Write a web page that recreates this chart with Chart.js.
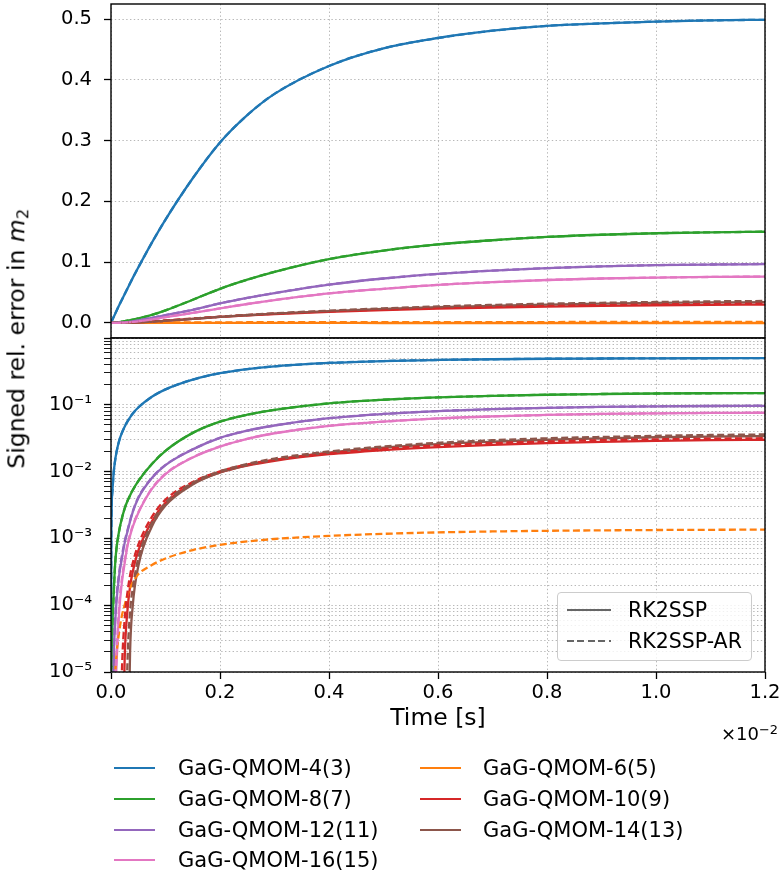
<!DOCTYPE html>
<html>
<head>
<meta charset="utf-8">
<script src="https://cdn.jsdelivr.net/npm/chart.js@4.4.1/dist/chart.umd.min.js"></script>
<style>
  html, body { margin:0; padding:0; background:#fff; }
  #wrap { position:relative; width:783px; height:873px; overflow:hidden; font-family:"DejaVu Sans", sans-serif; color:#000; }
  canvas { position:absolute; left:0; top:0; }
  .txt { position:absolute; white-space:nowrap; line-height:1.164em; }
  #ytitle { position:absolute; width:400px; text-align:center; font-size:23.5px; line-height:1.164em; transform:rotate(-90deg); }
  #xtitle { position:absolute; left:111px; width:654px; text-align:center; font-size:23.5px; line-height:1.164em; }
  #offset { position:absolute; right:5px; text-align:right; font-size:18px; line-height:1.164em; white-space:nowrap; }
  #offset sup { font-size:0.72em; vertical-align:0.5em; line-height:0; }
  #inleg { position:absolute; left:557px; top:592px; width:195px; height:69px; border:1px solid #cccccc; border-radius:4px; background:rgba(255,255,255,0.8); box-sizing:border-box; }
  .sample { position:absolute; height:2.6px; }
  .leg { font-size:21px; }
</style>
</head>
<body>
<div id="wrap">
  <canvas id="cTop" width="783" height="873"></canvas>
  <canvas id="cBot" width="783" height="873"></canvas>
  <div id="ytitle">Signed rel. error in <i>m</i><sub style="font-size:0.7em;vertical-align:-0.25em;line-height:0">2</sub></div>
  <div id="xtitle">Time [s]</div>
  <div id="offset">×10<sup>−2</sup></div>
  <div id="inleg"></div>
  <div id="legend"></div>
</div>
<script>
// ---------------- data ----------------
// time in units of 1e-2 s
const T = [0, 0.00001, 0.0005, 0.0025, 0.005, 0.0075, 0.01, 0.015, 0.02, 0.025, 0.03, 0.035, 0.04, 0.05, 0.075, 0.1, 0.15, 0.2, 0.25, 0.3, 0.4, 0.5, 0.6, 0.7, 0.8, 0.9, 1.0, 1.1, 1.2];

// GaG-QMOM-4(3)
const q4_rk  = [0, 2e-5, 0.001, 0.005, 0.0098, 0.0146, 0.0194, 0.029, 0.038, 0.047, 0.056, 0.065, 0.074, 0.091, 0.132, 0.170, 0.238, 0.297, 0.342, 0.377, 0.423, 0.452, 0.469, 0.481, 0.489, 0.493, 0.496, 0.498, 0.499];
const q4_ar  = [0, 2e-5, 0.001, 0.005, 0.0098, 0.0146, 0.0194, 0.029, 0.038, 0.047, 0.056, 0.065, 0.074, 0.091, 0.132, 0.170, 0.238, 0.297, 0.342, 0.377, 0.423, 0.452, 0.469, 0.481, 0.489, 0.493, 0.496, 0.498, 0.499];
// GaG-QMOM-6(5)
const q6_rk  = [0, 0, -1e-6, -5e-6, -1e-5, -1.5e-5, -2e-5, -3e-5, -4e-5, -5e-5, -6e-5, -7e-5, -8e-5, -9e-5, -1.1e-4, -1.3e-4, -1.6e-4, -1.9e-4, -2.1e-4, -2.3e-4, -2.5e-4, -2.6e-4, -2.7e-4, -2.75e-4, -2.8e-4, -2.8e-4, -2.85e-4, -2.85e-4, -2.9e-4];
const q6_ar  = [0, 0, 5e-8, 1e-6, 4e-6, 9e-6, 1.8e-5, 4e-5, 7e-5, 1e-4, 1.4e-4, 1.8e-4, 2.2e-4, 2.9e-4, 4e-4, 5e-4, 6.7e-4, 8e-4, 9e-4, 9.8e-4, 1.09e-3, 1.17e-3, 1.23e-3, 1.27e-3, 1.3e-3, 1.32e-3, 1.335e-3, 1.345e-3, 1.355e-3];
// GaG-QMOM-8(7)
const q8_rk  = [0, 0, 2e-6, 4e-5, 1.5e-4, 4e-4, 7e-4, 1.3e-3, 2e-3, 2.8e-3, 3.6e-3, 4.4e-3, 5.3e-3, 7.2e-3, 0.013, 0.0205, 0.038, 0.056, 0.071, 0.084, 0.105, 0.119, 0.129, 0.136, 0.1415, 0.145, 0.1475, 0.149, 0.150];
const q8_ar  = [0, 0, 2e-6, 4e-5, 1.5e-4, 4e-4, 7e-4, 1.3e-3, 2e-3, 2.8e-3, 3.6e-3, 4.4e-3, 5.3e-3, 7.2e-3, 0.013, 0.0205, 0.038, 0.056, 0.071, 0.084, 0.105, 0.119, 0.129, 0.136, 0.1415, 0.145, 0.1475, 0.149, 0.150];
// GaG-QMOM-10(9)
const q10_rk = [0, 0, 0, 0, 0, 0, 0, 0, 1e-7, 1.5e-5, 8e-5, 1.9e-4, 3.2e-4, 6.5e-4, 1.8e-3, 3.4e-3, 6.6e-3, 0.0097, 0.0123, 0.0145, 0.0182, 0.021, 0.0233, 0.0252, 0.0267, 0.0279, 0.0289, 0.0296, 0.030];
const q10_ar = [0, 0, 0, 0, 0, 0, 0, 1e-7, 1e-5, 6e-5, 1.5e-4, 2.8e-4, 4.3e-4, 8e-4, 2.1e-3, 3.8e-3, 7e-3, 0.0101, 0.0128, 0.015, 0.0189, 0.022, 0.0246, 0.0266, 0.0282, 0.0295, 0.0304, 0.0311, 0.0316];
// GaG-QMOM-12(11)
const q12_rk = [0, 0, 0, 1e-7, 1.3e-5, 5e-5, 1.1e-4, 2.8e-4, 5e-4, 8.5e-4, 1.25e-3, 1.8e-3, 2.5e-3, 4e-3, 8e-3, 0.0125, 0.0215, 0.032, 0.041, 0.049, 0.063, 0.073, 0.0805, 0.086, 0.090, 0.093, 0.095, 0.096, 0.0965];
const q12_ar = [0, 0, 0, 1e-6, 1.8e-5, 6e-5, 1.3e-4, 3.1e-4, 5.5e-4, 9e-4, 1.3e-3, 1.85e-3, 2.55e-3, 4.1e-3, 8.1e-3, 0.0126, 0.0216, 0.032, 0.041, 0.049, 0.063, 0.073, 0.0805, 0.086, 0.090, 0.093, 0.095, 0.096, 0.097];
// GaG-QMOM-14(13)
const q14_rk = [0, 0, 0, 0, 0, 0, 0, 0, 0, 0, 1e-7, 2e-5, 1e-4, 3.8e-4, 1.5e-3, 3.1e-3, 6.4e-3, 0.0097, 0.0125, 0.015, 0.0192, 0.0228, 0.0258, 0.028, 0.030, 0.0315, 0.0327, 0.0335, 0.034];
const q14_ar = [0, 0, 0, 0, 0, 0, 0, 0, 0, 1e-7, 1.2e-5, 8e-5, 1.8e-4, 5e-4, 1.7e-3, 3.4e-3, 6.8e-3, 0.0101, 0.013, 0.0157, 0.020, 0.0238, 0.027, 0.0295, 0.0315, 0.033, 0.0343, 0.0353, 0.036];
// GaG-QMOM-16(15)
const q16_rk = [0, 0, 0, 0, 1e-7, 3e-6, 1.2e-5, 8e-5, 2.2e-4, 4.2e-4, 7.5e-4, 1.1e-3, 1.5e-3, 2.4e-3, 5.5e-3, 0.0092, 0.0163, 0.0237, 0.031, 0.0375, 0.0485, 0.056, 0.0625, 0.067, 0.0705, 0.073, 0.0745, 0.0755, 0.076];
const q16_ar = [0, 0, 0, 0, 1e-6, 6e-6, 1.8e-5, 1e-4, 2.5e-4, 4.6e-4, 8e-4, 1.15e-3, 1.55e-3, 2.45e-3, 5.6e-3, 0.0093, 0.0164, 0.0238, 0.031, 0.0375, 0.0485, 0.056, 0.0625, 0.067, 0.0705, 0.073, 0.0745, 0.0755, 0.0762];

const MODELS = ['GaG-QMOM-4(3)', 'GaG-QMOM-6(5)', 'GaG-QMOM-8(7)', 'GaG-QMOM-10(9)', 'GaG-QMOM-12(11)', 'GaG-QMOM-14(13)', 'GaG-QMOM-16(15)'];
const METHODS = ['RK2SSP', 'RK2SSP-AR'];

// tick labels
const X_TICKS = [0, 0.2, 0.4, 0.6, 0.8, 1.0, 1.2];
const Y_TICKS_LIN = [0, 0.1, 0.2, 0.3, 0.4, 0.5];
const LOG_DECADES = [-5, -4, -3, -2, -1];
const LOG_LABELS = ['10⁻⁵', '10⁻⁴', '10⁻³', '10⁻²', '10⁻¹'];
const LOG_MANTISSA = [1, 2, 3, 4, 5, 6, 7, 8, 9];

// ---------------- styling ----------------
const COL = ['#1f77b4', '#ff7f0e', '#2ca02c', '#d62728', '#9467bd', '#8c564b', '#e377c2'];
const SERIES = [
  [q4_rk, q4_ar], [q6_rk, q6_ar], [q8_rk, q8_ar], [q10_rk, q10_ar],
  [q12_rk, q12_ar], [q14_rk, q14_ar], [q16_rk, q16_ar]
];
const DASH = [7, 3.4];
const GRID = '#b0b0b0';
const GRID_DASH = [1.4, 2.4];
const FONT = 'DejaVu Sans';

function datasets(log) {
  const out = [];
  // Chart.js draws the first dataset on top: dashed (AR) above solid, later models above earlier
  for (let m = 1; m >= 0; m--) {
    for (let k = SERIES.length - 1; k >= 0; k--) {
      const arr = SERIES[k][m];
      out.push({
        label: MODELS[k] + ' ' + METHODS[m],
        data: arr.map((v, i) => ({ x: T[i], y: log ? (v > 0 ? v : null) : v })),
        borderColor: COL[k],
        borderWidth: 2.3,
        borderDash: m === 1 ? DASH : [],
        pointRadius: 0,
        fill: false,
        cubicInterpolationMode: 'monotone',
        spanGaps: false
      });
    }
  }
  return out;
}

const framePlugin = {
  id: 'frame',
  afterDraw(chart) {
    const { ctx, chartArea: a } = chart;
    ctx.save();
    ctx.strokeStyle = '#000';
    ctx.lineWidth = 1.4;
    ctx.setLineDash([]);
    ctx.strokeRect(a.left, a.top, a.right - a.left, a.bottom - a.top);
    ctx.restore();
  }
};

const noPad = s => { s.paddingTop = 0; s.paddingBottom = 0; s.paddingLeft = 0; s.paddingRight = 0; };

const commonX = (showLabels) => ({
  type: 'linear', min: 0, max: 1.2,
  afterBuildTicks: s => { s.ticks = X_TICKS.map(v => ({ value: v })); },
  ticks: { display: showLabels, font: { family: FONT, size: 19.5 }, color: '#000', padding: 2, maxRotation: 0, autoSkip: false,
           callback: v => Number(v).toFixed(1) },
  grid: { color: GRID, lineWidth: 0.9, drawTicks: showLabels, tickColor: '#000', tickLength: 7, tickWidth: 1.3 },
  border: { display: false, dash: GRID_DASH }
});

// ---------------- top (linear) panel ----------------
new Chart(document.getElementById('cTop'), {
  type: 'line',
  data: { datasets: datasets(false) },
  options: {
    responsive: false, animation: false, events: [],
    layout: { padding: { left: 0, top: 4, right: 18, bottom: 873 - 338 } },
    plugins: { legend: { display: false }, tooltip: { enabled: false } },
    scales: {
      x: Object.assign(commonX(false), { afterFit: s => { s.height = 0; noPad(s); } }),
      y: {
        type: 'linear', min: -0.025, max: 0.525,
        afterFit: s => { s.width = 111; noPad(s); },
        afterBuildTicks: s => { s.ticks = Y_TICKS_LIN.map(v => ({ value: v })); },
        ticks: { font: { family: FONT, size: 19.5 }, color: '#000', padding: 12, callback: v => Number(v).toFixed(1) },
        grid: { color: GRID, lineWidth: 0.9, tickColor: '#000', tickLength: 7, tickWidth: 1.3 },
        border: { display: false, dash: GRID_DASH }
      }
    }
  },
  plugins: [framePlugin]
});

// ---------------- bottom (log) panel ----------------
const XH = 40;
new Chart(document.getElementById('cBot'), {
  type: 'line',
  data: { datasets: datasets(true) },
  options: {
    responsive: false, animation: false, events: [],
    layout: { padding: { left: 0, top: 338, right: 18, bottom: 873 - 672 - XH } },
    plugins: { legend: { display: false }, tooltip: { enabled: false } },
    scales: {
      x: Object.assign(commonX(true), { afterFit: s => { s.height = XH; noPad(s); } }),
      y: {
        type: 'logarithmic', min: 1e-5, max: 1,
        afterFit: s => { s.width = 111; noPad(s); },
        afterBuildTicks: s => {
          const t = [];
          LOG_DECADES.forEach((d, di) => LOG_MANTISSA.forEach(m => t.push({ value: m * Math.pow(10, d), major: m === 1, lab: m === 1 ? LOG_LABELS[di] : '' })));
          t.push({ value: 1, major: true, lab: '' });
          s.ticks = t;
        },
        ticks: {
          autoSkip: false, font: { family: FONT, size: 19.5 }, color: '#000', padding: 12,
          callback: (v, i, ticks) => ticks[i].lab
        },
        grid: {
          color: GRID, lineWidth: 0.9, tickColor: '#000', tickLength: 7,
          tickWidth: c => (c.tick && c.tick.major ? 1.3 : 0.9)
        },
        border: { display: false, dash: GRID_DASH }
      }
    }
  },
  plugins: [framePlugin]
});

// ---------------- text and legends (HTML) ----------------
function place(el, left, capCenterY, size) {
  el.style.left = left + 'px';
  el.style.top = (capCenterY - 0.563 * size) + 'px';
}
const yt = document.getElementById('ytitle');
yt.style.left = (17 - 200) + 'px';
yt.style.top = (339 - 0.582 * 23.5) + 'px';

const xt = document.getElementById('xtitle');
xt.style.top = (717 - 0.563 * 23.5) + 'px';

const off = document.getElementById('offset');
off.style.top = (734 - 0.563 * 18) + 'px';

function sample(parent, x, y, w, color, dashed) {
  const d = document.createElement('div');
  d.className = 'sample';
  d.style.left = x + 'px'; d.style.top = (y - 1.3) + 'px'; d.style.width = w + 'px';
  d.style.background = dashed
    ? 'repeating-linear-gradient(90deg,' + color + ' 0 7px, transparent 7px 10.4px)'
    : color;
  parent.appendChild(d);
}
function text(parent, x, y, s, size) {
  const t = document.createElement('div');
  t.className = 'txt leg';
  t.style.fontSize = size + 'px';
  t.textContent = s;
  place(t, x, y, size);
  parent.appendChild(t);
}

// inner legend (line style)
const inleg = document.getElementById('inleg');
sample(inleg, 9, 17, 44, '#666666', false);
text(inleg, 70, 18, METHODS[0], 20.5);
sample(inleg, 9, 48, 44, '#666666', true);
text(inleg, 70, 49, METHODS[1], 20.5);

// main legend (models), two columns
const leg = document.getElementById('legend');
const LEG_ORDER = [[0, 2, 4, 6], [1, 3, 5]];
const colX = [[114, 178], [420, 483]];
const rowY = [768, 799, 830, 860];
LEG_ORDER.forEach((col, c) => col.forEach((k, r) => {
  sample(leg, colX[c][0], rowY[r], 41, COL[k], false);
  text(leg, colX[c][1], rowY[r], MODELS[k], 21);
}));
</script>
</body>
</html>
